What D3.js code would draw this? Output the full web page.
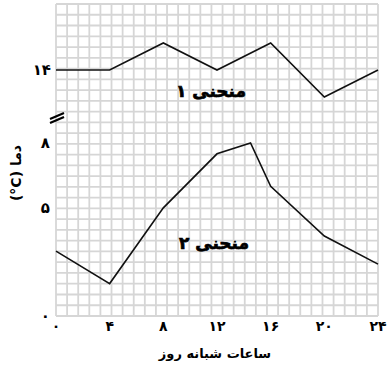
<!DOCTYPE html>
<html>
<head>
<meta charset="utf-8">
<script src="https://cdn.jsdelivr.net/npm/d3@7"></script>
<style>
	body { margin: 0; background: #fff; }
	svg { display: block; font-family: "DejaVu Sans", sans-serif; }
</style>
</head>
<body>
<svg id="chart" width="392" height="369"></svg>
<script>
// hours of the day, curve 1 (upper part of the broken axis) and curve 2
const hours = [0, 4, 8, 12, 16, 20, 24];
const curve1 = [14, 14, 15, 14, 15, 13, 14];
const curve2Hours = [0, 4, 8, 12, 14.5, 16, 20, 24];
const curve2 = [3, 1.5, 5, 7.5, 8, 6, 3.7, 2.4];
const xTicks = [0, 4, 8, 12, 16, 20, 24];
const yTicksLow = [0, 5, 8];
const yTicksHigh = [14];
const labels = ['منحنی ۱', 'منحنی ۲'];

const toFa = n => String(n).replace(/\d/g, d => '۰۱۲۳۴۵۶۷۸۹'[d]);

const svg = d3.select('#chart');
const x = d3.scaleLinear().domain([0, 24]).range([56, 378]);
const yLow = d3.scaleLinear().domain([0, 8]).range([316, 143]);
const yHigh = d3.scaleLinear().domain([13, 15]).range([97, 43]);

// graph paper
const cols = d3.scaleLinear().domain([0, 29]).range([56, 378]);
const rows = d3.scaleLinear().domain([0, 29]).range([316, 4]);
const grid = svg.append('g')
	.attr('stroke', '#d6d6d6')
	.attr('stroke-width', 1.8);
grid.selectAll('line.v')
	.data(d3.range(30))
	.enter()
	.append('line')
		.attr('x1', d => cols(d)).attr('x2', d => cols(d))
		.attr('y1', rows(0)).attr('y2', rows(29));
grid.selectAll('line.h')
	.data(d3.range(30))
	.enter()
	.append('line')
		.attr('y1', d => rows(d)).attr('y2', d => rows(d))
		.attr('x1', cols(0)).attr('x2', cols(29));

// curves
const line1 = d3.line().x((d, i) => x(hours[i])).y(d => yHigh(d));
const line2 = d3.line().x((d, i) => x(curve2Hours[i])).y(d => yLow(d));
svg.append('path').attr('d', line1(curve1))
	.attr('fill', 'none').attr('stroke', '#111').attr('stroke-width', 1.6);
svg.append('path').attr('d', line2(curve2))
	.attr('fill', 'none').attr('stroke', '#111').attr('stroke-width', 1.6);

// curve names
svg.selectAll('text.name')
	.data([[211, 97], [214, 249]])
	.enter()
	.append('text')
		.text((d, i) => labels[i])
		.attr('x', d => d[0]).attr('y', d => d[1])
		.attr('text-anchor', 'middle')
		.attr('direction', 'rtl')
		.attr('font-size', 17).attr('font-weight', 'bold')
		.attr('stroke', '#000').attr('stroke-width', 0.7);

// tick labels
svg.selectAll('text.xt')
	.data(xTicks)
	.enter()
	.append('text')
		.attr('x', d => x(d)).attr('y', 331)
		.attr('text-anchor', 'middle')
		.attr('font-size', 14).attr('font-weight', 'bold')
		.text(d => toFa(d));
svg.selectAll('text.yl')
	.data(yTicksLow)
	.enter()
	.append('text')
		.attr('x', 50).attr('y', d => yLow(d) + 5)
		.attr('text-anchor', 'end')
		.attr('font-size', 15).attr('font-weight', 'bold')
		.text(d => toFa(d));
svg.selectAll('text.yh')
	.data(yTicksHigh)
	.enter()
	.append('text')
		.attr('x', 51).attr('y', d => yHigh(d) + 5)
		.attr('text-anchor', 'end')
		.attr('font-size', 15).attr('font-weight', 'bold')
		.text(d => toFa(d));

// axis break mark
svg.append('g').attr('stroke', '#000').attr('stroke-width', 2.2)
	.selectAll('line')
	.data([0, 4])
	.enter()
	.append('line')
		.attr('x1', 50).attr('y1', d => 119 + d)
		.attr('x2', 64).attr('y2', d => 113 + d);

// axis titles
svg.append('text').text('ساعات شبانه روز')
	.attr('x', 215).attr('y', 358)
	.attr('text-anchor', 'middle')
	.attr('font-size', 13).attr('font-weight', 'bold');
svg.append('text').text('(°C) دما')
	.attr('transform', 'translate(21,173) rotate(-90)')
	.attr('text-anchor', 'middle')
	.attr('font-size', 14).attr('font-weight', 'bold');
</script>
</body>
</html>
